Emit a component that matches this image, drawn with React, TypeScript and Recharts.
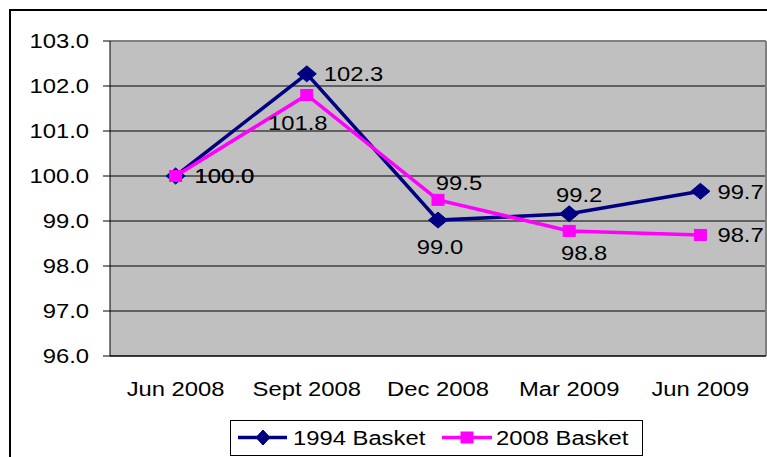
import React from 'react';
import { LineChart, Line, XAxis, YAxis, CartesianGrid, Legend, ReferenceLine, LabelList } from 'recharts';

const categories = ['Jun 2008', 'Sept 2008', 'Dec 2008', 'Mar 2009', 'Jun 2009'];
const basket1994 = [100.0, 102.27, 99.02, 99.16, 99.66];
const basket2008 = [100.0, 101.8, 99.47, 98.78, 98.69];
const yTicks = [96, 97, 98, 99, 100, 101, 102, 103];
const slotEdges = [0, 1, 2, 3, 4, 5];
const slotCenters = [0.5, 1.5, 2.5, 3.5, 4.5];
const seriesNames = ['1994 Basket', '2008 Basket'];

const data = categories.map((c, i) => ({
  slot: slotCenters[i],
  name: c,
  b1994: basket1994[i],
  b2008: basket2008[i],
}));

const NAVY = '#000080';
const MAGENTA = '#FF00FF';
const FONT = "'Liberation Sans', Arial, sans-serif";
const SX = 1.19;

const StretchText = ({ x, y, anchor, children, size = 20 }: any) => (
  <text
    transform={`translate(${x},${y}) scale(${SX},1)`}
    textAnchor={anchor}
    dy="0.36em"
    fontSize={size}
    fontFamily={FONT}
    fill="#000"
  >
    {children}
  </text>
);

const place1994: any[] = [
  [19, 0, 'start'],
  [17, 0, 'start'],
  [2, 27, 'middle'],
  [10, -19, 'middle'],
  [17, 0, 'start'],
];
const place2008: any[] = [
  [19, 0, 'start'],
  [-9, 28, 'middle'],
  [21, -17, 'middle'],
  [15, 22, 'middle'],
  [17, 0, 'start'],
];

const makeLabel = (place: any[]) => (props: any) => {
  const x = props.x ?? props.viewBox?.x;
  const y = props.y ?? props.viewBox?.y;
  const idx = props.index ?? 0;
  const [dx, dy, a] = place[idx] || [0, 0, 'middle'];
  return (
    <StretchText key={`l${idx}`} x={x + dx} y={y + dy} anchor={a}>
      {Number(props.value).toFixed(1)}
    </StretchText>
  );
};

const Diamond = ({ cx, cy, color, hw = 9.5, hh = 8 }: any) => (
  <polygon
    points={`${cx},${cy - hh} ${cx + hw},${cy} ${cx},${cy + hh} ${cx - hw},${cy}`}
    fill={color}
    stroke={color}
  />
);

const Square = ({ cx, cy, color, w = 12, h = 11 }: any) => (
  <rect x={cx - w / 2} y={cy - h / 2} width={w} height={h} fill={color} stroke={color} />
);

const YTick = (props: any) => {
  const { x, y, payload } = props;
  return (
    <StretchText x={x} y={y} anchor="end">
      {Number(payload.value).toFixed(1)}
    </StretchText>
  );
};

const XLabelTick = (props: any) => {
  const { x, y, index } = props;
  return (
    <StretchText x={x} y={y + 26} anchor="middle">
      {categories[index]}
    </StretchText>
  );
};

const LegendBox = () => (
  <svg width={413} height={36} style={{ display: 'block' }}>
    <rect x={0.5} y={0.5} width={412} height={35} fill="#fff" stroke="#000" />
    <line x1={8} y1={17.5} x2={57} y2={17.5} stroke={NAVY} strokeWidth={3.5} />
    <Diamond cx={33} cy={17.5} color={NAVY} hw={7} hh={7.5} />
    <StretchText x={63} y={17.5} anchor="start">{seriesNames[0]}</StretchText>
    <line x1={212} y1={17.5} x2={262} y2={17.5} stroke={MAGENTA} strokeWidth={3.5} />
    <Square cx={237} cy={17.5} color={MAGENTA} w={12} h={11} />
    <StretchText x={266} y={17.5} anchor="start">{seriesNames[1]}</StretchText>
  </svg>
);

export default function App() {
  return (
    <>
      <style>{'html,body{margin:0;padding:0;overflow:hidden;}'}</style>
      <div
        style={{
          width: 767,
          height: 457,
          overflow: 'hidden',
          position: 'relative',
          background: '#fff',
        }}
      >
        <div
          style={{
            position: 'absolute',
            left: 9,
            top: 9,
            width: 900,
            height: 600,
            border: '2px solid #000',
            boxSizing: 'border-box',
          }}
        />
        <div style={{ position: 'absolute', left: 8, top: 8 }}>
          <LineChart width={768} height={449} data={data} margin={{ top: 33, right: 10, left: 0, bottom: 0 }}>
            <CartesianGrid
              xAxisId="edges"
              vertical={false}
              fill="#C0C0C0"
              fillOpacity={1}
              stroke="#000"
              strokeWidth={1}
            />
            <XAxis
              xAxisId="edges"
              type="number"
              dataKey="slot"
              domain={[0, 5]}
              ticks={slotEdges}
              height={7}
              tickSize={6}
              tick={false}
              tickLine={{ stroke: '#000' }}
              axisLine={{ stroke: '#000' }}
            />
            <XAxis
              xAxisId="labels"
              type="number"
              dataKey="slot"
              domain={[0, 5]}
              ticks={slotCenters}
              height={58}
              tickSize={0}
              tickMargin={0}
              tickLine={false}
              axisLine={false}
              tick={<XLabelTick />}
            />
            <YAxis
              type="number"
              domain={[96, 103]}
              ticks={yTicks}
              width={102}
              tickSize={7}
              tickMargin={14}
              tickLine={{ stroke: '#000' }}
              axisLine={{ stroke: '#000' }}
              tick={<YTick />}
            />
            <ReferenceLine xAxisId="edges" y={103} stroke="#808080" strokeWidth={2} />
            <ReferenceLine xAxisId="edges" x={5} stroke="#808080" strokeWidth={2} />
            <Legend
              verticalAlign="bottom"
              height={36}
              wrapperStyle={{ left: 222, width: 413, bottom: 1 }}
              content={() => <LegendBox />}
            />
            <Line
              xAxisId="edges"
              type="linear"
              dataKey="b1994"
              name={seriesNames[0]}
              stroke={NAVY}
              strokeWidth={3.5}
              isAnimationActive={false}
              dot={(p: any) => <Diamond key={`d${p.index}`} cx={p.cx} cy={p.cy} color={NAVY} />}
            >
              <LabelList dataKey="b1994" content={makeLabel(place1994)} />
            </Line>
            <Line
              xAxisId="edges"
              type="linear"
              dataKey="b2008"
              name={seriesNames[1]}
              stroke={MAGENTA}
              strokeWidth={3.5}
              isAnimationActive={false}
              dot={(p: any) => <Square key={`s${p.index}`} cx={p.cx} cy={p.cy} color={MAGENTA} />}
            >
              <LabelList dataKey="b2008" content={makeLabel(place2008)} />
            </Line>
          </LineChart>
        </div>
      </div>
    </>
  );
}
